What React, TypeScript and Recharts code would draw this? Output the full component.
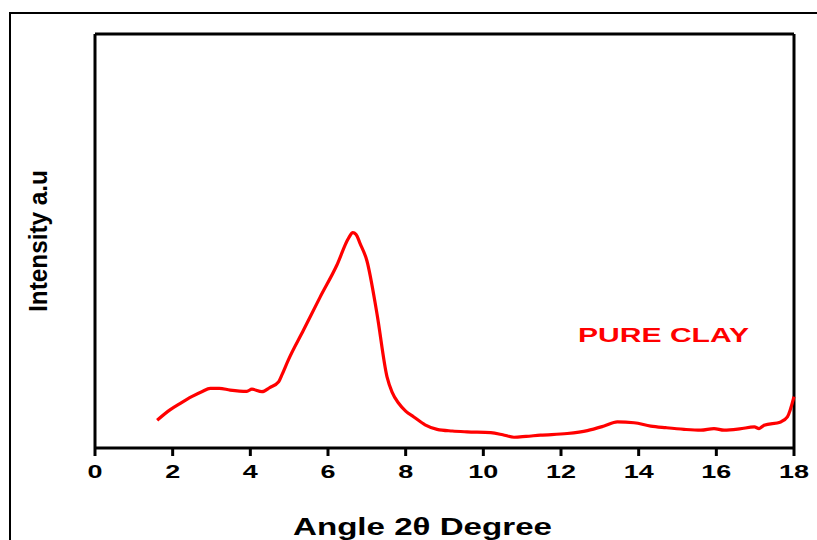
import { LineChart, Line, XAxis, YAxis, ReferenceLine } from 'recharts';

// 2-theta angle (degrees) and intensity (a.u., 0-100 scale)
const ANGLE = [
  1.6, 1.93, 2.2, 2.49, 2.75, 2.97, 3.2, 3.48, 3.91, 4.04, 4.3, 4.5, 4.73, 4.81, 4.98, 5.37,
  5.8, 6.23, 6.53, 6.64, 6.72, 6.83, 7.0, 7.26, 7.52, 7.65, 7.82, 8.0, 8.21, 8.5, 8.81, 9.2,
  9.58, 10.19, 10.5, 10.79, 11.1, 11.47, 12.16, 12.68, 13.11, 13.45, 13.88, 14.31, 14.7,
  15.17, 15.6, 15.94, 16.2, 16.6, 16.98, 17.1, 17.23, 17.66, 17.83, 18.0
];
const INTENSITY = [
  6.7, 9.2, 10.8, 12.4, 13.6, 14.4, 14.4, 14.0, 13.7, 14.2, 13.6, 14.6, 16.0, 17.6, 21.3, 28.5,
  36.5, 44.2, 50.7, 52.0, 51.6, 49.3, 45.3, 32.5, 17.2, 13.5, 10.8, 8.9, 7.5, 5.6, 4.5, 4.1,
  3.9, 3.7, 3.2, 2.6, 2.8, 3.1, 3.5, 4.2, 5.3, 6.3, 6.1, 5.3, 4.9,
  4.5, 4.3, 4.7, 4.3, 4.6, 5.1, 4.7, 5.5, 6.3, 7.5, 12.4
];
const X_TICKS = [0, 2, 4, 6, 8, 10, 12, 14, 16, 18];

const data = ANGLE.map((a, i) => ({ angle: a, intensity: INTENSITY[i] }));

const FONT = 'Liberation Sans, Arial, sans-serif';

const Tick = ({ x, y, payload }: any) => {
  const s = String(payload.value);
  return (
    <text
      x={x}
      y={y}
      dy={20}
      textAnchor="middle"
      fontFamily={FONT}
      fontWeight="bold"
      fontSize={19}
      fill="#000"
      textLength={s.length * 15}
      lengthAdjust="spacingAndGlyphs"
    >
      {s}
    </text>
  );
};

export default function App() {
  return (
    <div style={{ position: 'absolute', left: 0, top: 0, width: 817, height: 540, background: '#fff' }}>
      <div
        style={{
          position: 'absolute',
          left: 9,
          top: 12,
          width: 808,
          height: 528,
          boxSizing: 'border-box',
          borderTop: '2px solid #000',
          borderLeft: '2px solid #000'
        }}
      />
      <LineChart
        width={817}
        height={540}
        data={data}
        margin={{ top: 34, right: 23, left: 95, bottom: 62 }}
        style={{ position: 'absolute', left: 0, top: 0 }}
      >
        <XAxis
          dataKey="angle"
          type="number"
          domain={[0, 18]}
          ticks={X_TICKS}
          interval={0}
          height={30}
          axisLine={{ stroke: '#000', strokeWidth: 3 }}
          tickLine={{ stroke: '#000', strokeWidth: 3 }}
          tickSize={8}
          tick={<Tick />}
        />
        <YAxis type="number" domain={[0, 100]} hide />
        <ReferenceLine x={0} stroke="#000" strokeWidth={3} />
        <ReferenceLine x={18} stroke="#000" strokeWidth={3} />
        <ReferenceLine y={100} stroke="#000" strokeWidth={3} />
        <Line
          dataKey="intensity"
          type="monotone"
          stroke="#ff0000"
          strokeWidth={3.2}
          dot={false}
          isAnimationActive={false}
        />
      </LineChart>
      <svg width={817} height={540} style={{ position: 'absolute', left: 0, top: 0, pointerEvents: 'none' }}>
        <text
          x={663.5}
          y={342}
          textAnchor="middle"
          fontFamily={FONT}
          fontWeight="bold"
          fontSize={21}
          fill="#ff0000"
          textLength={171}
          lengthAdjust="spacingAndGlyphs"
        >
          PURE CLAY
        </text>
        <text
          x={47}
          y={241}
          transform="rotate(-90, 47, 241)"
          textAnchor="middle"
          fontFamily={FONT}
          fontWeight="bold"
          fontSize={25}
          fill="#000"
          textLength={142}
          lengthAdjust="spacingAndGlyphs"
        >
          Intensity a.u
        </text>
        <text
          x={422.5}
          y={535}
          textAnchor="middle"
          fontFamily={FONT}
          fontWeight="bold"
          fontSize={23}
          fill="#000"
          textLength={259}
          lengthAdjust="spacingAndGlyphs"
        >
          Angle 2θ Degree
        </text>
      </svg>
    </div>
  );
}
